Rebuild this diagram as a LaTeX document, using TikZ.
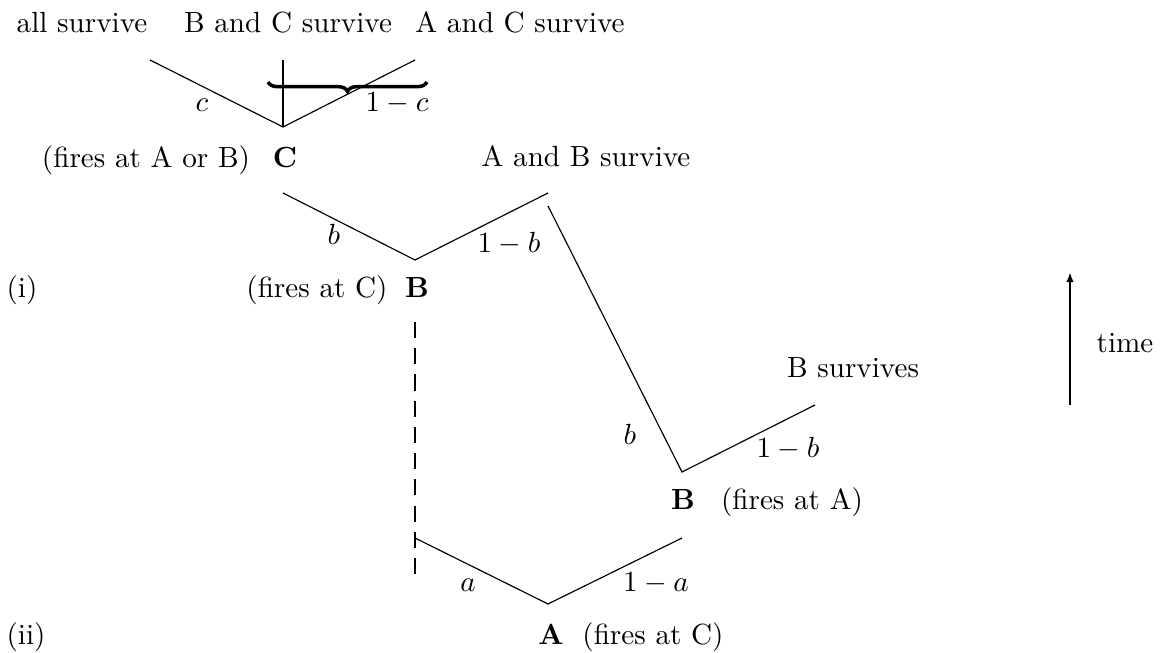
\documentclass[tikz,border=0pt]{standalone}
\usetikzlibrary{decorations.pathreplacing,arrows.meta}
\begin{document}
\begin{tikzpicture}[x=0.343pt,y=-0.343pt,
  branch/.style={line width=0.4pt},
  txt/.style={inner sep=0pt,anchor=base}]
\useasboundingbox (0,0) rectangle (1167,653);
% vertices
\coordinate (Cv) at (283,127);
\coordinate (Cl) at (150,60);
\coordinate (Cr) at (415,60);
\coordinate (Ct) at (283,60);
\coordinate (Bv) at (415,260);
\coordinate (Bl) at (283,193);
\coordinate (Br) at (548,193);
\coordinate (Bs) at (548,206);
\coordinate (B2v) at (682,472);
\coordinate (B2r) at (815,405);
\coordinate (Av) at (548,604);
\coordinate (Al) at (415,538);
\coordinate (Ar) at (682,538);
\coordinate (Dt) at (415,322);
\coordinate (Db) at (415,583);
\coordinate (Tb) at (1070,405);
\coordinate (Tt) at (1070,272);
\coordinate (Bra) at (268,82);
\coordinate (Brb) at (427,82);
% trees
\draw[branch] (Cl) -- (Cv) -- (Cr);
\draw[line width=0.9pt] (Ct) -- (Cv);
\draw[line width=1.2pt,decorate,decoration={brace,mirror,amplitude=3.2pt}] (Bra) -- (Brb);
\draw[branch] (Bl) -- (Bv) -- (Br);
\draw[branch] (Bs) -- (B2v) -- (B2r);
\draw[branch] (Al) -- (Av) -- (Ar);
\draw[line width=0.7pt,dash pattern=on 5.5pt off 3.5pt] (Dt) -- (Db);
\draw[line width=0.7pt,-{Latex[length=3.5pt,width=2.6pt]}] (Tb) -- (Tt);
% labels
\node[txt] (t1) at (82,33) {all survive};
\node[txt] (t2) at (288,33) {B and C survive};
\node[txt] (t3) at (520,33) {A and C survive};
\node[txt] (lc) at (202,112) {$c$};
\node[txt] (l1c) at (397,112) {$1-c$};
\node[txt] (fC) at (146,168) {(fires at A or B)};
\node[txt] (nC) at (285,168) {\textbf{C}};
\node[txt] (tAB) at (586,167) {A and B survive};
\node[txt] (lb) at (334,245) {$b$};
\node[txt] (l1b) at (509,253) {$1-b$};
\node[txt] (ii1) at (22,298) {(i)};
\node[txt] (fB) at (317,298) {(fires at C)};
\node[txt] (nB) at (417,298) {\textbf{B}};
\node[txt] (time) at (1125,353) {time};
\node[txt] (tBs) at (853,378) {B survives};
\node[txt] (lb2) at (630,445) {$b$};
\node[txt] (l1b2) at (788,458) {$1-b$};
\node[txt] (nB2) at (683,510) {\textbf{B}};
\node[txt] (fB2) at (792,510) {(fires at A)};
\node[txt] (la) at (468,592) {$a$};
\node[txt] (l1a) at (656,592) {$1-a$};
\node[txt] (ii2) at (26,645) {(ii)};
\node[txt] (nA) at (551,645) {\textbf{A}};
\node[txt] (fA) at (653,645) {(fires at C)};
\end{tikzpicture}
\end{document}
